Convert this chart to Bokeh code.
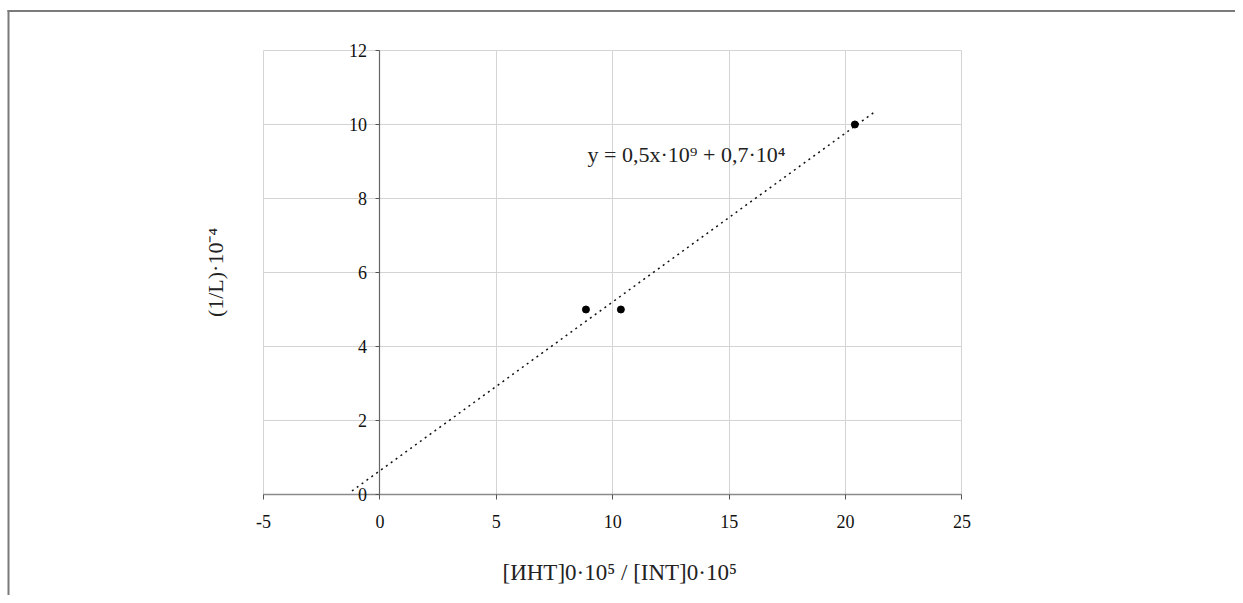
import numpy as np
from bokeh.plotting import figure
from bokeh.models import Range1d, FixedTicker, Label, BoxAnnotation
from bokeh.embed import file_html
from bokeh.resources import INLINE

# ---- data ----
ratio_x = [8.85, 10.35, 20.4]
inv_l = [5.0, 5.0, 10.0]
trend_x = [-1.2, 21.3]
x_ticks = [-5, 0, 5, 10, 15, 20, 25]
y_ticks = [0, 2, 4, 6, 8, 10, 12]
equation = "y = 0,5x·10⁹ + 0,7·10⁴"
x_title = "[ИНТ]0·10⁵ / [INT]0·10⁵"
y_title = "(1/L)·10⁻⁴"

slope, intercept = np.polyfit(ratio_x, inv_l, 1)
trend_y = [slope * x + intercept for x in trend_x]

FONT = "Liberation Serif"
W, H = 1235, 595

# The frame covers the whole canvas; the visible plot box is [-5, 25] x [0, 12]
p = figure(width=W, height=H, output_backend="svg", toolbar_location=None,
           x_range=Range1d(-16.295, 36.748), y_range=Range1d(-2.730, 13.351),
           min_border_left=0, min_border_right=0, min_border_top=0, min_border_bottom=0)
p.title.visible = False
p.background_fill_color = "white"
p.border_fill_color = "white"
p.outline_line_color = None

p.xgrid.ticker = FixedTicker(ticks=x_ticks)
p.xgrid.bounds = (-5, 25)
p.xgrid.cross_bounds = (0, 12)
p.ygrid.ticker = FixedTicker(ticks=y_ticks)
p.ygrid.bounds = (0, 12)
p.ygrid.cross_bounds = (-5, 25)
for g in (p.xgrid, p.ygrid):
    g.grid_line_color = "#d4d4d4"
    g.grid_line_width = 1

# x axis along y = 0
xa = p.xaxis[0]
xa.fixed_location = 0
xa.bounds = (-5, 25)
xa.ticker = FixedTicker(ticks=x_ticks)
xa.major_label_overrides = {-5: "-5"}
xa.axis_line_color = "#8a8a8a"
xa.axis_line_width = 1.5
xa.major_tick_line_color = "#555555"
xa.major_tick_in = 0
xa.major_tick_out = 5
xa.minor_tick_line_color = None
xa.major_label_standoff = 16
xa.major_label_text_font = FONT
xa.major_label_text_font_size = "18px"
xa.major_label_text_color = "#111111"
xa.axis_label = None

# y axis along x = 0
ya = p.yaxis[0]
ya.fixed_location = 0
ya.bounds = (0, 12)
ya.ticker = FixedTicker(ticks=y_ticks)
ya.axis_line_color = "#666666"
ya.axis_line_width = 1.2
ya.major_tick_line_color = "#555555"
ya.major_tick_in = 0
ya.major_tick_out = 4
ya.minor_tick_line_color = None
ya.major_label_standoff = 9
ya.major_label_text_font = FONT
ya.major_label_text_font_size = "18px"
ya.major_label_text_color = "#111111"
ya.axis_label = None

# trend line and points
p.line(trend_x, trend_y, line_color="#111111", line_width=1.5, line_dash="2 4")
p.scatter(ratio_x, inv_l, size=7, marker="circle", fill_color="black", line_color="black")

p.add_layout(Label(x=8.92, y=9.2, text=equation, text_font=FONT,
                   text_font_size="22px", text_color="#222222",
                   text_baseline="middle", text_align="left"))

p.add_layout(Label(x=10.3, y=-2.1, text=x_title, text_font=FONT,
                   text_font_size="23px", text_color="#222222",
                   text_baseline="middle", text_align="center"))

p.add_layout(Label(x=-7.05, y=6.0, angle=90, angle_units="deg", text=y_title,
                   text_font=FONT, text_font_size="22px", text_color="#222222",
                   text_align="center", text_baseline="middle"))

# page frame: only its top and left edges are visible (two thin filled bars)
BAR = dict(left_units="screen", right_units="screen", top_units="screen",
           bottom_units="screen", fill_color="#7a7a7a", fill_alpha=1.0, line_color=None)
p.add_layout(BoxAnnotation(left=7, right=W, top=H - 9.5, bottom=H - 11.5, **BAR))
p.add_layout(BoxAnnotation(left=7, right=9, top=H - 9.5, bottom=0, **BAR))

open("out.html", "w").write(file_html(p, INLINE))
